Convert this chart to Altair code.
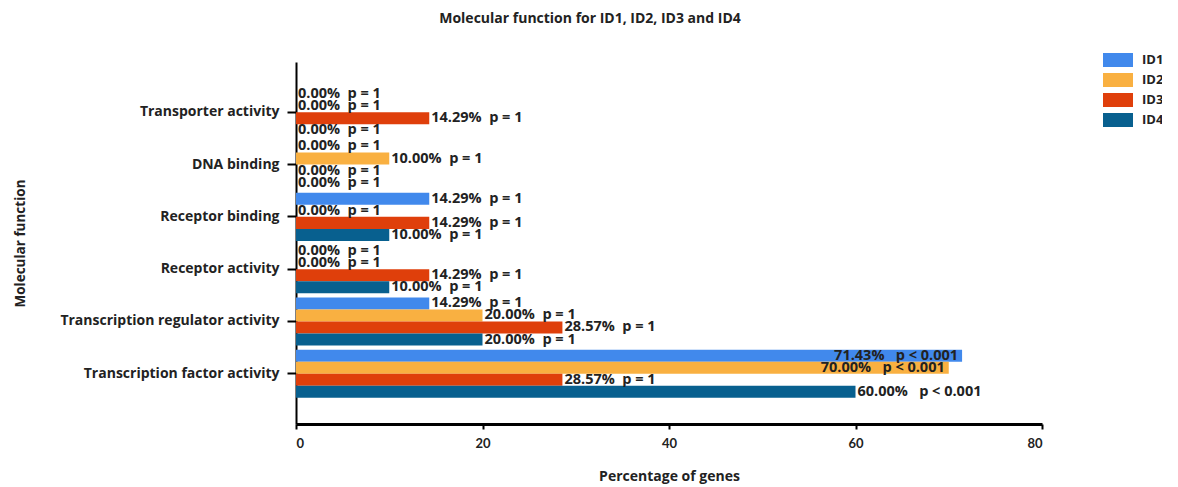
import altair as alt
import pandas as pd

categories = ["Transporter activity", "DNA binding", "Receptor binding",
              "Receptor activity", "Transcription regulator activity",
              "Transcription factor activity"]
series = ["ID1", "ID2", "ID3", "ID4"]
colors = ["#4189EC", "#F9B041", "#DF3F0B", "#08608F"]

id1 = [0.00, 0.00, 14.29, 0.00, 14.29, 71.43]
id2 = [0.00, 10.00, 0.00, 0.00, 20.00, 70.00]
id3 = [14.29, 0.00, 14.29, 14.29, 28.57, 28.57]
id4 = [0.00, 0.00, 10.00, 10.00, 20.00, 60.00]

p1 = ["p = 1", "p = 1", "p = 1", "p = 1", "p = 1", "p < 0.001"]
p2 = ["p = 1", "p = 1", "p = 1", "p = 1", "p = 1", "p < 0.001"]
p3 = ["p = 1", "p = 1", "p = 1", "p = 1", "p = 1", "p = 1"]
p4 = ["p = 1", "p = 1", "p = 1", "p = 1", "p = 1", "p < 0.001"]

# labels drawn inside the bar end
inside1 = [False, False, False, False, False, True]
inside2 = [False, False, False, False, False, True]
inside3 = [False] * 6
inside4 = [False] * 6

rows = []
for s, vals, ps, ins in zip(series, [id1, id2, id3, id4], [p1, p2, p3, p4],
                            [inside1, inside2, inside3, inside4]):
    for c, v, p, i in zip(categories, vals, ps, ins):
        gap = "\u00a0\u00a0\u00a0" if p.startswith("p <") else "\u00a0\u00a0"
        rows.append({"category": c, "series": s, "value": v,
                     "label": f"{v:.2f}%{gap}{p}", "inside": i})
df = pd.DataFrame(rows)

FONT = "Open Sans"
TICKFONT = "Lato"
TXT = "#222222"

y_enc = alt.Y("category:N", sort=categories,
              scale=alt.Scale(domain=categories, paddingInner=0.08, paddingOuter=0.5),
              axis=alt.Axis(title="Molecular function", labelFont=FONT, labelFontSize=14,
                            labelFontWeight="bold", labelColor=TXT, labelLimit=400,
                            tickSize=9, tickWidth=2, tickColor="black",
                            domainColor="black", domainWidth=2, labelPadding=8,
                            titleFont=FONT, titleFontSize=13.5, titleFontWeight="bold",
                            titleColor=TXT, titleX=-276, titleY=181,
                            titleAngle=270, titleBaseline="middle", titleAlign="center"))
x_enc = alt.X("value:Q", scale=alt.Scale(domain=[0, 80], nice=False),
              axis=alt.Axis(title="Percentage of genes", values=[0, 20, 40, 60, 80],
                            grid=False, labelFont=TICKFONT, labelFontSize=13,
                            labelFontWeight="bold", labelColor=TXT,
                            tickSize=5, tickWidth=2, tickColor="black",
                            domainColor="black", domainWidth=3, labelPadding=8,
                            titleFont=FONT, titleFontSize=14, titleFontWeight="bold",
                            titleColor=TXT, titleY=52, titleBaseline="middle"))
yoff = alt.YOffset("series:N", sort=series,
                   scale=alt.Scale(domain=series, paddingInner=0, paddingOuter=0))

bars = alt.Chart(df).mark_bar(opacity=1).encode(
    y=y_enc, x=x_enc, yOffset=yoff,
    color=alt.Color("series:N", scale=alt.Scale(domain=series, range=colors),
                    legend=alt.Legend(title=None, orient="none", legendX=815, legendY=-9,
                                      padding=0,
                                      symbolType="M-2.14,-1H2.14V1H-2.14Z",
                                      symbolSize=196, symbolStrokeWidth=0,
                                      symbolOpacity=1, labelOffset=17, rowPadding=6,
                                      labelFont=FONT, labelFontSize=13,
                                      labelFontWeight="bold", labelColor=TXT)),
)

text_out = alt.Chart(df).transform_filter("!datum.inside").mark_text(
    align="left", baseline="middle", dx=2, font=FONT, fontSize=14.5,
    fontWeight="bold", color=TXT
).encode(y=alt.Y("category:N", sort=categories), x="value:Q", yOffset=yoff,
         text="label:N")

text_in = alt.Chart(df).transform_filter("datum.inside").mark_text(
    align="right", baseline="middle", dx=-4, font=FONT, fontSize=14.5,
    fontWeight="bold", color=TXT
).encode(y=alt.Y("category:N", sort=categories), x="value:Q", yOffset=yoff,
         text="label:N")

chart = alt.layer(bars, text_out, text_in).properties(
    width=746, height=362,
    autosize=alt.AutoSizeParams(type="none"),
    padding={"left": 288, "top": 54, "right": 120, "bottom": 62},
    title=alt.TitleParams("Molecular function for ID1, ID2, ID3 and ID4",
                          anchor="middle", frame="group", dx=-79, offset=27,
                          font=FONT, fontSize=14, fontWeight="bold", color=TXT),
).configure_view(stroke=None)

chart.save("out.html", embed_options={"renderer": "svg", "actions": False})
